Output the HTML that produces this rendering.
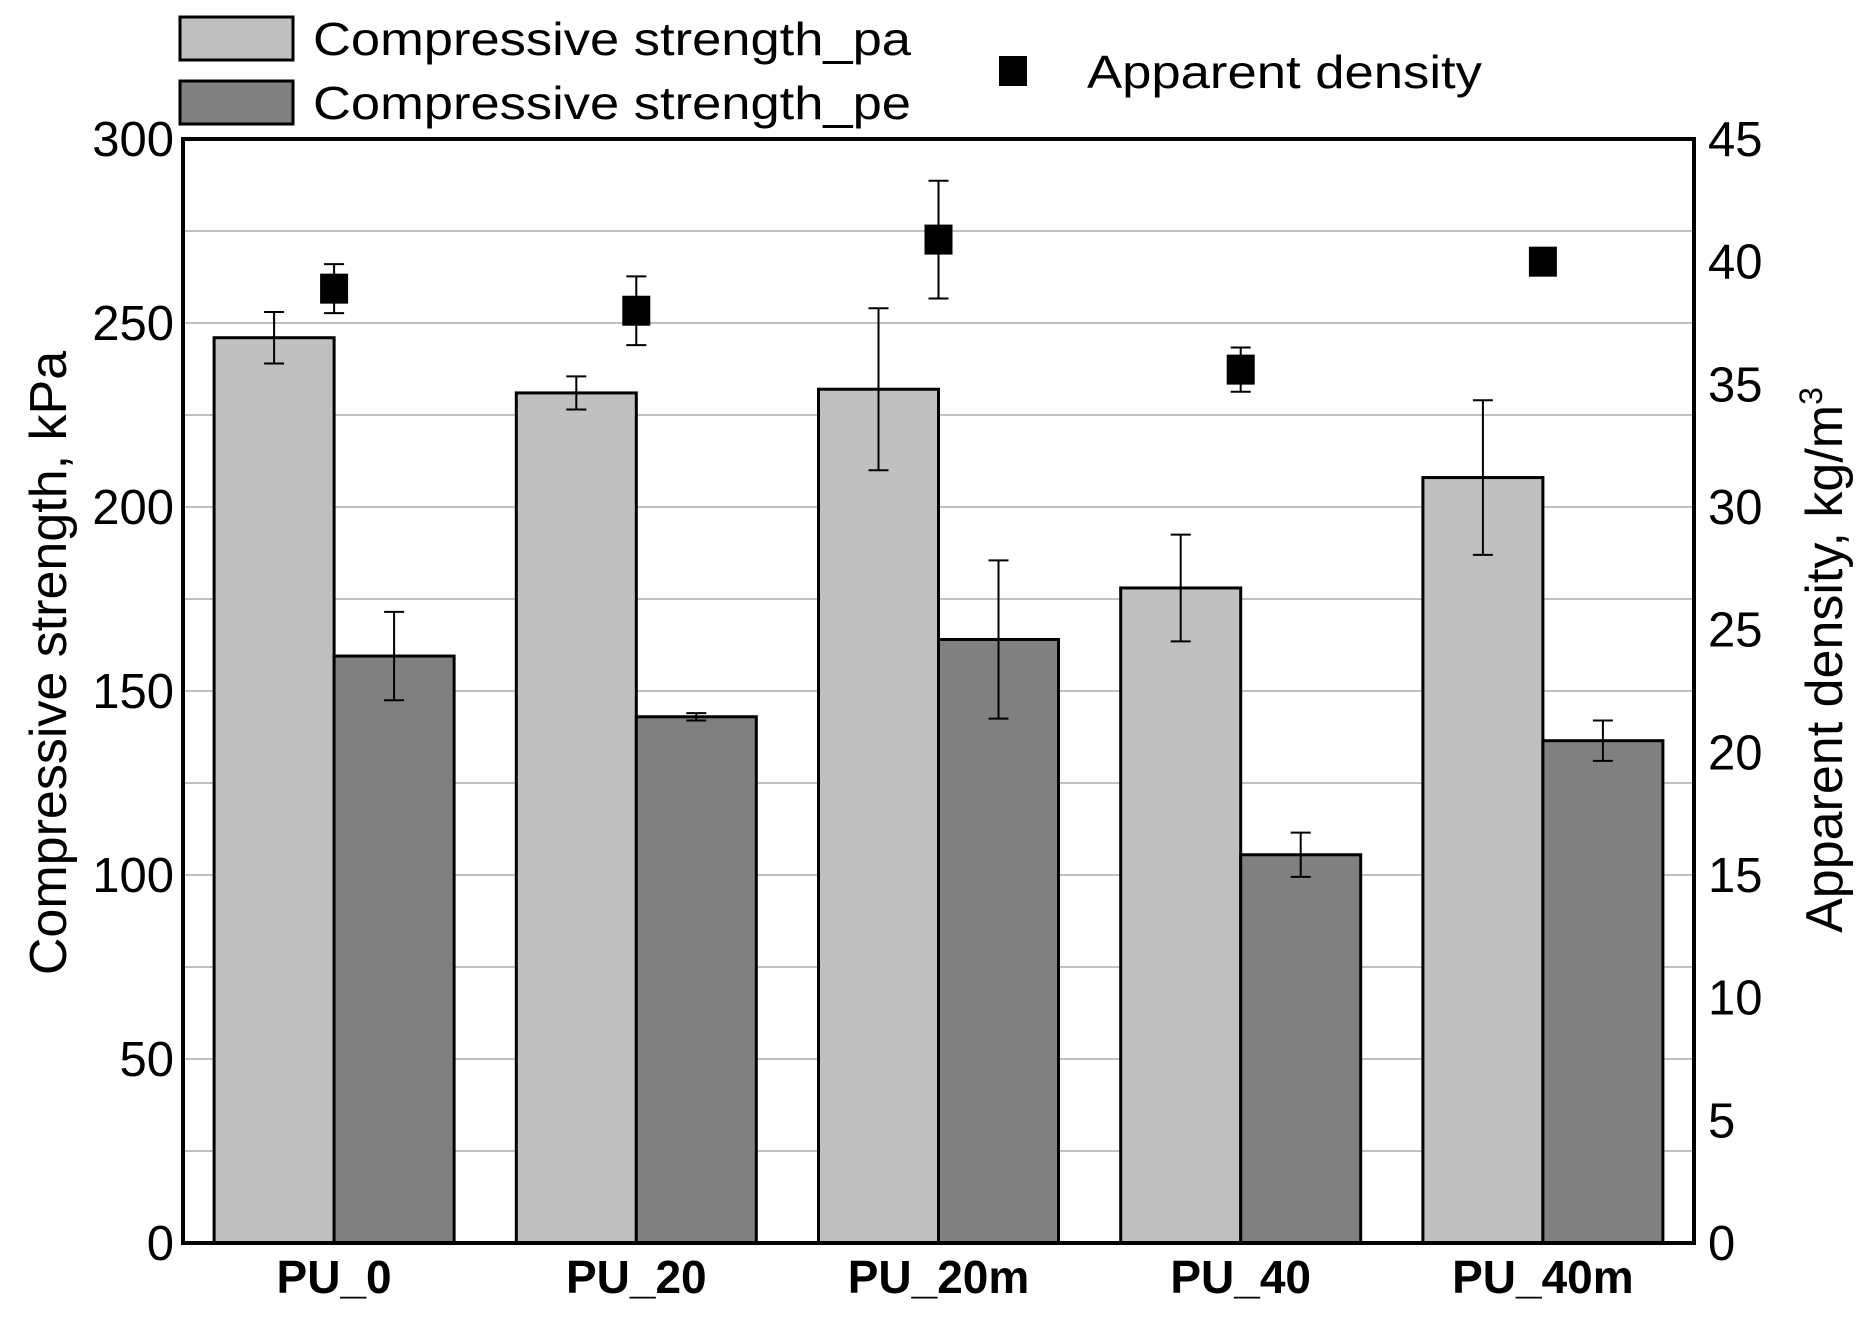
<!DOCTYPE html>
<html><head><meta charset="utf-8"><style>
html,body{margin:0;padding:0;background:#fff;}
svg{display:block;font-family:"Liberation Sans",Arial,sans-serif;}
</style></head><body>
<svg id="chart" width="1874" height="1328" viewBox="0 0 1874 1328" xmlns="http://www.w3.org/2000/svg">
<g id="grid"></g>
<g id="bars"></g>
<g id="dens"></g>
<rect x="183" y="139" width="1511" height="1104" fill="none" stroke="#000" stroke-width="4"/>
<g id="ticks"></g>
<text x="0" y="0" transform="translate(66,663) rotate(-90)" text-anchor="middle" font-size="52">Compressive strength, kPa</text>
<text x="0" y="0" transform="translate(1842,660) rotate(-90)" text-anchor="middle" font-size="52">Apparent density, kg/m<tspan dy="-20" font-size="32">3</tspan></text>
<g>
<rect x="180" y="17" width="113" height="43" fill="#c0c0c0" stroke="#000" stroke-width="3"/>
<text x="313" y="55" font-size="46" textLength="598" lengthAdjust="spacingAndGlyphs">Compressive strength_pa</text>
<rect x="180" y="81" width="113" height="43" fill="#808080" stroke="#000" stroke-width="3"/>
<text x="313" y="119" font-size="46" textLength="598" lengthAdjust="spacingAndGlyphs">Compressive strength_pe</text>
<rect x="999" y="56" width="28" height="30" fill="#000"/>
<text x="1087" y="88" font-size="46" textLength="395" lengthAdjust="spacingAndGlyphs">Apparent density</text>
</g>
</svg>
<script>
const categories = ["PU_0","PU_20","PU_20m","PU_40","PU_40m"];
const paValues = [246,231,232,178,208];
const paErrors = [7,4.5,22,14.5,21];
const peValues = [159.5,143,164,105.5,136.5];
const peErrors = [12,1,21.5,6,5.5];
const densValues = [38.9,38.0,40.9,35.6,40.0];
const densErrors = [1.0,1.4,2.4,0.9,0];
const leftTicks = [0,50,100,150,200,250,300];
const rightTicks = [0,5,10,15,20,25,30,35,40,45];
const gridValues = [25,50,75,100,125,150,175,200,225,250,275];

const NS="http://www.w3.org/2000/svg";
const L=183,R=1694,T=139,B=1243;
const y1=v=>B-(v/300)*(B-T);
const y2=v=>B-(v/45)*(B-T);
const band=(R-L)/categories.length;
const xc=i=>L+band*(i+0.5);
const BW=120;
function mk(tag,attrs,parent){const e=document.createElementNS(NS,tag);for(const k in attrs)e.setAttribute(k,attrs[k]);parent.appendChild(e);return e;}
const grid=document.getElementById('grid'),bars=document.getElementById('bars'),dens=document.getElementById('dens'),ticks=document.getElementById('ticks');
gridValues.forEach(v=>{const g=mk('line',{x1:L,x2:R,y1:y1(v),y2:y1(v),stroke:'#c0c0c0','stroke-width':2},grid);

});
function errbar(x,top,bot,parent){
 const g=mk('g',{stroke:'#000','stroke-width':2},parent);
 
 
 mk('line',{x1:x,x2:x,y1:top,y2:bot},g);mk('line',{x1:x-10,x2:x+10,y1:top,y2:top},g);mk('line',{x1:x-10,x2:x+10,y1:bot,y2:bot},g);}
categories.forEach((c,i)=>{
 const cx=xc(i);
 const a=mk('rect',{x:cx-BW,y:y1(paValues[i]),width:BW,height:B-y1(paValues[i]),fill:'#c0c0c0',stroke:'#000','stroke-width':3},bars);
 
 
 const b=mk('rect',{x:cx,y:y1(peValues[i]),width:BW,height:B-y1(peValues[i]),fill:'#808080',stroke:'#000','stroke-width':3},bars);
 
 
 errbar(cx-BW/2,y1(paValues[i]+paErrors[i]),y1(paValues[i]-paErrors[i]),bars);
 errbar(cx+BW/2,y1(peValues[i]+peErrors[i]),y1(peValues[i]-peErrors[i]),bars);
 if(densErrors[i]>0) errbar(cx,y2(densValues[i]+densErrors[i]),y2(densValues[i]-densErrors[i]),dens);
 const s=mk('rect',{x:cx-14,y:y2(densValues[i])-15,width:28,height:30,fill:'#000'},dens);
 
 
 const t=mk('text',{x:cx,y:1293,'text-anchor':'middle','font-size':46,'font-weight':'bold'},ticks);
 t.textContent=c;
 
 
});
leftTicks.forEach(v=>{const t=mk('text',{x:174,y:y1(v)+17,'text-anchor':'end','font-size':49},ticks);t.textContent=v;

});
rightTicks.forEach(v=>{const t=mk('text',{x:1708,y:y2(v)+17,'text-anchor':'start','font-size':49},ticks);t.textContent=v;

});
</script>
</body></html>
